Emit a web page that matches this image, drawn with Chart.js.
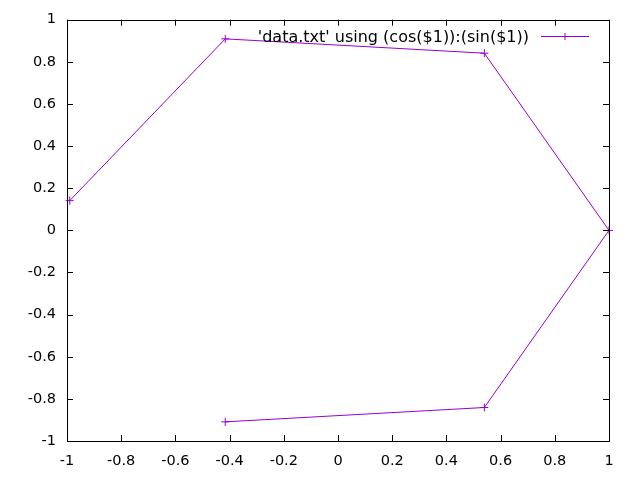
<!DOCTYPE html>
<html>
<head>
<meta charset="utf-8">
<script src="https://cdn.jsdelivr.net/npm/chart.js@4"></script>
<style>
  body { margin: 0; background: #fff; }
  #wrap { width: 640px; height: 480px; }
</style>
</head>
<body>
<div id="wrap"><canvas id="graph"></canvas></div>
<script>
// values (cos(t), sin(t) for t = 3 .. -2)
const xValues = [-0.99, -0.416, 0.54, 1, 0.54, -0.416];
const yValues = [0.141, 0.909, 0.841, 0, -0.841, -0.909];
const seriesLabel = "'data.txt' using (cos($1)):(sin($1))";
const lineColor = "#9400d3";
const fontFamily = "'DejaVu Sans', sans-serif";

const points = xValues.map((x, i) => ({ x: x, y: yValues[i] }));

function fmt(v) {
  return Number(v.toFixed(1)).toString();
}

// gnuplot-ish frame: box border, inward ticks on all sides, legend at top right
const framePlugin = {
  id: "frame",
  afterDraw(chart) {
    const ctx = chart.ctx;
    const a = chart.chartArea;
    const xs = chart.scales.x;
    const ys = chart.scales.y;
    const tick = 6;
    ctx.save();
    ctx.strokeStyle = "#000";
    ctx.lineWidth = 1;
    ctx.beginPath();
    xs.ticks.forEach((t) => {
      const px = Math.round(xs.getPixelForValue(t.value)) + 0.5;
      ctx.moveTo(px, a.bottom);
      ctx.lineTo(px, a.bottom - tick);
      ctx.moveTo(px, a.top);
      ctx.lineTo(px, a.top + tick);
    });
    ys.ticks.forEach((t) => {
      const py = Math.round(ys.getPixelForValue(t.value)) + 0.5;
      ctx.moveTo(a.left, py);
      ctx.lineTo(a.left + tick, py);
      ctx.moveTo(a.right, py);
      ctx.lineTo(a.right - tick, py);
    });
    ctx.stroke();
    ctx.strokeRect(Math.round(a.left) + 0.5, Math.round(a.top) + 0.5,
      Math.round(a.right - a.left), Math.round(a.bottom - a.top));

    // legend
    const ly = 36.5;
    ctx.font = "16px " + fontFamily;
    ctx.fillStyle = "#000";
    ctx.textAlign = "right";
    ctx.textBaseline = "middle";
    ctx.fillText(seriesLabel, 529, ly + 1);
    ctx.strokeStyle = lineColor;
    ctx.beginPath();
    ctx.moveTo(541, ly);
    ctx.lineTo(589, ly);
    ctx.moveTo(565, ly - 3.5);
    ctx.lineTo(565, ly + 3.5);
    ctx.stroke();
    ctx.restore();
  }
};

new Chart(document.getElementById("graph"), {
  type: "line",
  data: {
    datasets: [
      {
        label: seriesLabel,
        data: points,
        borderColor: lineColor,
        backgroundColor: lineColor,
        borderWidth: 1,
        pointStyle: "cross",
        pointRadius: 4,
        pointBorderWidth: 1,
        pointBorderColor: lineColor,
        tension: 0,
        fill: false,
        clip: false
      }
    ]
  },
  options: {
    responsive: true,
    maintainAspectRatio: false,
    animation: false,
    layout: { padding: { left: 0, top: 19, right: 31, bottom: 0 } },
    plugins: {
      legend: { display: false },
      tooltip: { enabled: false }
    },
    scales: {
      x: {
        type: "linear",
        min: -1,
        max: 1,
        grid: { display: false, drawTicks: false },
        border: { display: false },
        ticks: {
          stepSize: 0.2,
          padding: 12,
          color: "#000",
          maxRotation: 0,
          font: { family: fontFamily, size: 14.5 },
          callback: fmt
        },
        afterFit(scale) { scale.height = 39; }
      },
      y: {
        type: "linear",
        min: -1,
        max: 1,
        grid: { display: false, drawTicks: false },
        border: { display: false },
        ticks: {
          stepSize: 0.2,
          padding: 11,
          color: "#000",
          font: { family: fontFamily, size: 14.5 },
          callback: fmt
        },
        afterFit(scale) { scale.width = 67; }
      }
    }
  },
  plugins: [framePlugin]
});
</script>
</body>
</html>
